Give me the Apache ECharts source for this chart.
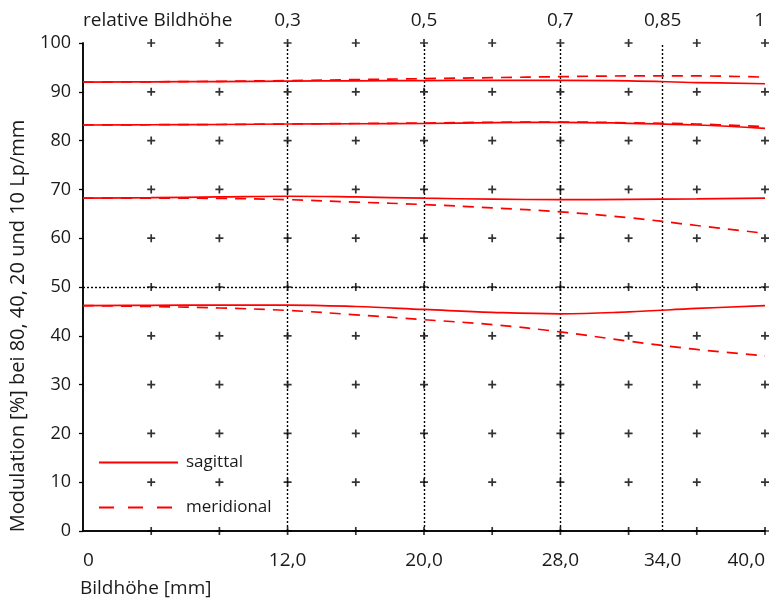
<!DOCTYPE html>
<html>
<head>
<meta charset="utf-8">
<script src="https://cdn.jsdelivr.net/npm/echarts@6/dist/echarts.min.js"></script>
<style>html,body{margin:0;padding:0;background:#fff}#c{width:772px;height:605px}</style>
</head>
<body>
<div id="c"></div>
<script>
// Bildhöhe positions (mm)
const bildhoehe = [0, 4, 8, 12, 16, 20, 24, 28, 32, 36, 40];
// 10 Lp/mm
const sag10 = [92.0, 92.05, 92.1, 92.2, 92.25, 92.3, 92.35, 92.35, 92.25, 91.9, 91.65];
const mer10 = [92.0, 92.05, 92.15, 92.3, 92.5, 92.7, 92.9, 93.1, 93.25, 93.25, 93.0];
// 20 Lp/mm
const sag20 = [83.2, 83.25, 83.3, 83.4, 83.45, 83.5, 83.7, 83.75, 83.55, 83.2, 82.5];
const mer20 = [83.2, 83.25, 83.3, 83.4, 83.5, 83.6, 83.75, 83.8, 83.65, 83.4, 82.85];
// 40 Lp/mm
const sag40 = [68.2, 68.3, 68.45, 68.6, 68.45, 68.2, 68.0, 67.9, 67.95, 68.05, 68.2];
const mer40 = [68.2, 68.2, 68.15, 67.9, 67.4, 66.9, 66.2, 65.4, 64.2, 62.6, 61.0];
// 80 Lp/mm
const sag80 = [46.2, 46.25, 46.3, 46.3, 46.0, 45.4, 44.8, 44.5, 44.9, 45.6, 46.2];
const mer80 = [46.2, 46.0, 45.7, 45.2, 44.3, 43.3, 42.3, 40.8, 38.9, 37.2, 35.9];

// axis labels
const bottomTicks = [0, 12, 20, 28, 34, 40];
const bottomLabels = ['0', '12,0', '20,0', '28,0', '34,0', '40,0'];
const topLabels = ['relative Bildhöhe', '0,3', '0,5', '0,7', '0,85', '1'];
const markerX = [4, 8, 12, 16, 20, 24, 28, 32, 36, 40];
const markerY = [0, 10, 20, 30, 40, 50, 60, 70, 80, 90, 100];
const dottedX = [12, 20, 28, 34];
const dottedY = [50];

const FONT = 'Open Sans';
const TXT = '#1a1a1a';
const RED = '#ff0000';

function pairs(vals) { return bildhoehe.map((x, i) => [x, vals[i]]); }
const plusPts = [];
markerX.forEach(x => markerY.forEach(y => plusPts.push([x, y])));

function lineSeries(name, vals, dashed) {
  return {
    type: 'line', name: name, data: pairs(vals), smooth: 0.4, symbol: 'none',
    xAxisIndex: 0, yAxisIndex: 0, z: 5,
    lineStyle: { color: RED, width: 1.7, type: dashed ? [11, 8] : 'solid' },
    itemStyle: { color: RED }
  };
}

const chart = echarts.init(document.getElementById('c'), null, { renderer: 'canvas' });
chart.setOption({
  animation: false,
  backgroundColor: '#fff',
  textStyle: { fontFamily: FONT },
  grid: { left: 83, right: 7, top: 43, bottom: 74 },
  legend: {
    data: [
      { name: 'sagittal' },
      { name: 'meridional', lineStyle: { type: [15, 14] } }
    ],
    orient: 'vertical', left: 93, top: 449,
    itemWidth: 79, itemHeight: 14, itemGap: 28,
    itemStyle: { opacity: 0 },
    textStyle: { fontFamily: FONT, fontSize: 17, color: TXT, padding: [0, 0, 0, 3] },
    selectedMode: false
  },
  xAxis: [
    {
      type: 'value', min: 0, max: 40, position: 'bottom',
      axisLine: { lineStyle: { color: '#000', width: 1.5 } },
      axisTick: { show: false }, splitLine: { show: false },
      axisLabel: {
        customValues: bottomTicks, margin: 20, fontSize: 19, color: TXT, fontFamily: FONT,
        alignMinLabel: 'left', alignMaxLabel: 'right',
        formatter: v => bottomLabels[bottomTicks.indexOf(v)]
      }
    },
    {
      type: 'value', min: 0, max: 40, position: 'top',
      axisLine: { lineStyle: { color: '#000', width: 1.5 } },
      axisTick: { show: false }, splitLine: { show: false },
      axisLabel: {
        customValues: bottomTicks, margin: 13, fontSize: 19, color: TXT, fontFamily: FONT,
        alignMinLabel: 'left', alignMaxLabel: 'right',
        formatter: v => topLabels[bottomTicks.indexOf(v)]
      }
    }
  ],
  yAxis: [
    {
      type: 'value', min: 0, max: 100, interval: 10, position: 'left',
      axisLine: { show: true, lineStyle: { color: '#000', width: 1.5 } },
      axisTick: { show: true, inside: false, length: 4, lineStyle: { color: '#000', width: 1.3 } },
      splitLine: { show: false },
      axisLabel: { margin: 12, fontSize: 18, color: TXT, fontFamily: FONT }
    },
    {
      type: 'value', min: 0, max: 100, interval: 10, position: 'right',
      axisLine: { show: true, lineStyle: { color: '#000', width: 1.5 } },
      axisTick: { show: false }, splitLine: { show: false }, axisLabel: { show: false }
    }
  ],
  graphic: [
    { type: 'text', left: 80, top: 579,
      style: { text: 'Bildhöhe [mm]', font: '19px "Open Sans"', fill: TXT } },
    { type: 'text', x: 18, y: 326, rotation: Math.PI / 2,
      style: { text: 'Modulation [%] bei 80, 40, 20 und 10 Lp/mm', font: '20px "Open Sans"',
               fill: TXT, align: 'center', verticalAlign: 'middle' } }
  ],
  series: [
    {
      type: 'scatter', name: 'marks', data: plusPts, xAxisIndex: 0, yAxisIndex: 0,
      symbol: 'path://M2.75,0H4.25V2.75H7V4.25H4.25V7H2.75V4.25H0V2.75H2.75Z', symbolSize: 8,
      itemStyle: { color: '#000' }, silent: true, z: 3,
      markLine: {
        silent: true, symbol: 'none', label: { show: false },
        lineStyle: { color: '#000', width: 1.4, type: [2, 2] },
        data: dottedX.map(x => ({ xAxis: x })).concat(dottedY.map(y => ({ yAxis: y })))
      }
    },
    lineSeries('sagittal', sag10, false),
    lineSeries('meridional', mer10, true),
    lineSeries('sagittal', sag20, false),
    lineSeries('meridional', mer20, true),
    lineSeries('sagittal', sag40, false),
    lineSeries('meridional', mer40, true),
    lineSeries('sagittal', sag80, false),
    lineSeries('meridional', mer80, true)
  ]
});
</script>
</body>
</html>
